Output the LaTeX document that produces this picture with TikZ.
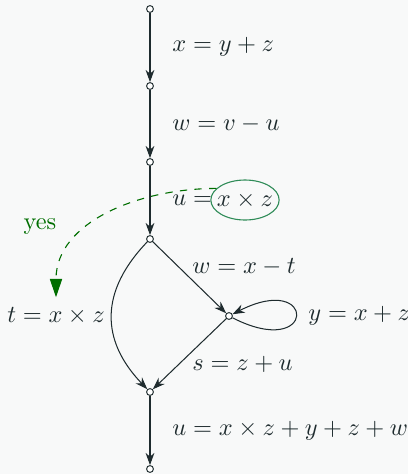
\documentclass[tikz,border=0pt]{standalone}
\usetikzlibrary{arrows.meta,shapes.geometric}
\definecolor{bg}{RGB}{248,249,249}
\definecolor{ink}{RGB}{30,43,46}
\definecolor{dgreen}{RGB}{0,110,0}
\definecolor{egreen}{RGB}{46,139,87}
\begin{document}
\begin{tikzpicture}[x=0.41pt,y=-0.41pt,
  vert/.style={circle,draw=ink,fill=white,inner sep=0pt,minimum size=2.8pt,line width=0.4pt},
  flow/.style={draw=ink,line width=0.42pt,-{Stealth[length=5pt,width=3.6pt,inset=1.6pt]}},
  lbl/.style={inner sep=0pt,anchor=west,text=ink},
  hint/.style={draw=dgreen,dashed,line width=0.45pt,-{Triangle[length=7.5pt,width=5pt]}}]
\fill[bg] (0,0) rectangle (408,474);
\useasboundingbox (0,0) rectangle (408,474);
\node[vert] (n1) at (150,9) {};
\node[vert] (n2) at (150,86) {};
\node[vert] (n3) at (150,162) {};
\node[vert] (n4) at (150,239) {};
\node[vert] (n5) at (229,316) {};
\node[vert] (n6) at (150,392) {};
\node[vert] (n7) at (150,469) {};
\draw[flow] (n1) -- (n2);
\draw[flow] (n2) -- (n3);
\draw[flow] (n3) -- (n4);
\draw[flow] (n4) -- (n5);
\draw[flow] (n5) -- (n6);
\draw[flow] (n6) -- (n7);
\draw[flow] (n4) .. controls +(-50,52) and +(-50,-52) .. (n6);
\draw[flow] (n5) .. controls +(88,45) and +(88,-45) .. (n5);
\node[lbl] (l1) at (172,47) {$x = y + z$};
\node[lbl] (l2) at (172,124) {$w = v - u$};
\node[lbl] (l3) at (172,200) {$u =$};
\node[ellipse,draw=egreen,line width=0.45pt,inner sep=0pt,minimum width=28pt,minimum height=16.4pt,text=ink] (xz) at (245,200) {\makebox[0pt]{$x \times z$}};
\node[lbl] (l4) at (192,267) {$w = x - t$};
\node[lbl] (l5) at (308,316) {$y = x + z$};
\node[lbl] (l6) at (192,364) {$s = z + u$};
\node[lbl] (l7) at (172,431) {$u = x \times z + y + z + w$};
\node[inner sep=0pt,text=ink] (tl) at (56,316) {$t = x \times z$};
\node[inner sep=0pt,text=dgreen] (yes) at (40,227) {yes};
\draw[hint] (xz.158) to[out=180,in=90] ([yshift=4pt]tl.north);
\end{tikzpicture}
\end{document}
